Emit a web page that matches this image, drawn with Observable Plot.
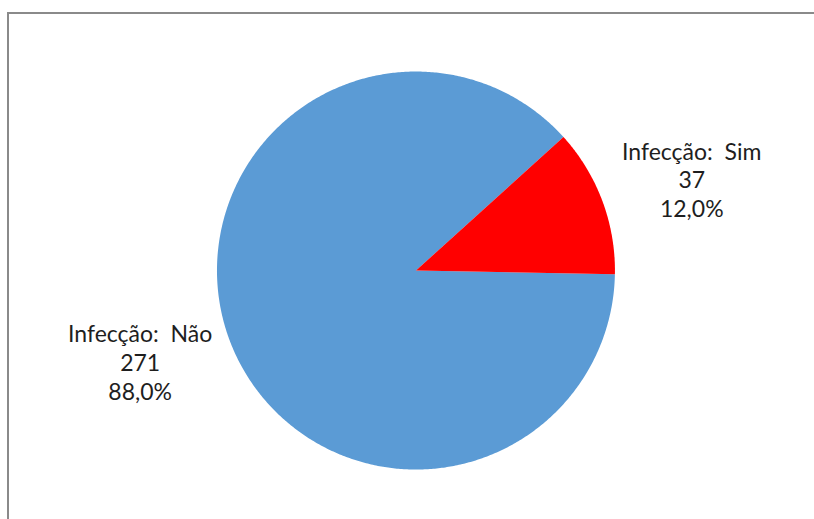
<!DOCTYPE html>
<html>
<head>
<meta charset="utf-8">
<script src="https://cdn.jsdelivr.net/npm/d3@7"></script>
<script src="https://cdn.jsdelivr.net/npm/@observablehq/plot@0.6"></script>
<style>
  html, body { margin: 0; padding: 0; background: #fff; overflow: hidden; }
  #wrap { position: relative; width: 814px; height: 519px; }
  #frame { position: absolute; left: 7px; top: 12px; width: 900px; height: 600px;
           border-top: 2px solid #8a8a8a; border-left: 2px solid #8a8a8a; pointer-events: none; }
</style>
</head>
<body>
<div id="wrap"><div id="frame"></div></div>
<script>
// Data
const categories = ["Infecção:  Não", "Infecção:  Sim"];
const counts = [271, 37];
const percents = ["88,0%", "12,0%"];
const colors = ["#5B9BD5", "#FF0000"];
// Rotation of the first slice (degrees clockwise from 12 o'clock)
const startAngle = 91.1;
const labelAngleShift = 2.2;
const labelRadius = 1.46;

const total = d3.sum(counts);
const toRad = Math.PI / 180;
const slicePts = [];
const labels = [];
let acc = startAngle;
categories.forEach((c, i) => {
  const span = counts[i] / total * 360;
  const a0 = acc, a1 = acc + span;
  slicePts.push({cat: c, x: 0, y: 0});
  const n = Math.max(2, Math.ceil(span * 2));
  for (let k = 0; k <= n; k++) {
    const a = (a0 + (a1 - a0) * k / n) * toRad;
    slicePts.push({cat: c, x: Math.sin(a), y: Math.cos(a)});
  }
  slicePts.push({cat: c, x: 0, y: 0});
  const mid = ((a0 + a1) / 2 + labelAngleShift) * toRad;
  labels.push({cat: c, x: labelRadius * Math.sin(mid), y: labelRadius * Math.cos(mid),
               text: `${c}\n${counts[i]}\n${percents[i]}`});
  acc = a1;
});

const chart = Plot.plot({
  width: 814,
  height: 519,
  margin: 0,
  x: {domain: [-2.088, 2.003], axis: null},
  y: {domain: [-1.251, 1.357], axis: null},
  color: {domain: categories, range: colors},
  marks: [
    Plot.line(slicePts, {x: "x", y: "y", z: "cat", fill: "cat", stroke: "none", curve: "linear"}),
    Plot.text(labels, {x: "x", y: "y", text: "text", fontSize: 23, lineHeight: 1.26,
      fill: "#1e1e1e", fontFamily: "Lato, 'Open Sans', sans-serif", textAnchor: "middle"})
  ]
});
chart.style.position = "absolute";
chart.style.left = "0";
chart.style.top = "0";
chart.style.background = "transparent";
document.getElementById("wrap").prepend(chart);
</script>
</body>
</html>
